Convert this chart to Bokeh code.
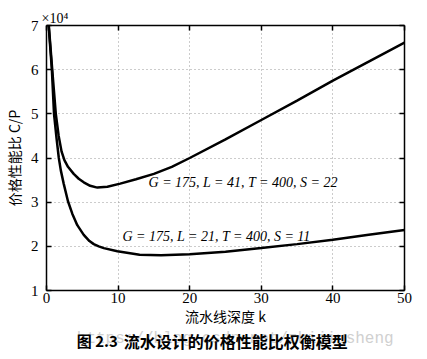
from bokeh.plotting import figure
from bokeh.models import LinearAxis, FixedTicker, Label, Range1d, Title
from bokeh.layouts import column
from bokeh.core.properties import value
from bokeh.embed import file_html
from bokeh.resources import INLINE

# pipeline depth k and cost/performance ratio C/P (units of 10^4)
k_a = [0.32, 0.8, 1.3, 1.7, 2.1, 2.5, 3.0, 3.8, 4.5, 5.2, 6.1, 7.1, 8.5, 10.3, 12.5, 15, 17.5, 20, 25, 30, 35, 40, 45, 50]
cp_a = [7.0, 6.0, 5.0, 4.5, 4.15, 3.95, 3.8, 3.64, 3.53, 3.45, 3.37, 3.33, 3.35, 3.42, 3.52, 3.64, 3.8, 4.0, 4.42, 4.86, 5.3, 5.75, 6.18, 6.61]

k_b = [0.3, 0.75, 1.05, 1.4, 1.72, 2.0, 2.4, 3.0, 3.6, 4.3, 5.2, 6.0, 6.6, 7.3, 8.0, 9.9, 13, 16, 20, 25, 30, 35, 40, 45, 50]
cp_b = [7.0, 6.0, 5.0, 4.45, 4.0, 3.72, 3.42, 3.02, 2.74, 2.48, 2.26, 2.12, 2.05, 2.0, 1.96, 1.89, 1.81, 1.8, 1.82, 1.88, 1.96, 2.05, 2.15, 2.26, 2.37]

label_a = "G = 175, L = 41, T = 400, S = 22"
label_b = "G = 175, L = 21, T = 400, S = 11"
x_ticks = [0, 10, 20, 30, 40, 50]
y_ticks = [1, 2, 3, 4, 5, 6, 7]
fig_no = "图 2.3"
caption = "流水设计的价格性能比权衡模型"
watermark = "https://blog.csdn.net/zhijiusheng"

SERIF = "Liberation Serif"
CJK = "Noto Sans CJK SC"

p = figure(frame_width=358, frame_height=265, output_backend="svg", toolbar_location=None,
           x_range=Range1d(0, 50), y_range=Range1d(1, 7),
           min_border_left=38, min_border_right=15, min_border_top=25, min_border_bottom=0)
p.outline_line_color = None

p.line(k_a, cp_a, line_color="black", line_width=2.5)
p.line(k_b, cp_b, line_color="black", line_width=2.5)

for ax in (p.xaxis[0], p.yaxis[0]):
    ax.axis_line_width = 1.5
    ax.axis_line_color = "black"
    ax.major_tick_in = 5
    ax.major_tick_out = 0
    ax.major_tick_line_width = 1.5
    ax.minor_tick_line_color = None
    ax.major_label_text_font = SERIF
    ax.major_label_text_font_size = "15px"
    ax.major_label_text_color = "black"
    ax.axis_label_text_font = CJK
    ax.axis_label_text_font_size = "14px"
    ax.axis_label_text_font_style = "normal"
    ax.axis_label_text_color = "black"

p.xaxis[0].ticker = FixedTicker(ticks=x_ticks)
p.yaxis[0].ticker = FixedTicker(ticks=y_ticks)
p.xaxis[0].major_label_standoff = 2
p.yaxis[0].major_label_standoff = 8
p.xaxis[0].axis_label = "流水线深度 k"
p.yaxis[0].axis_label = "价格性能比 C/P"
p.xaxis[0].axis_label_standoff = 0
p.yaxis[0].axis_label_standoff = 4

top = LinearAxis(ticker=FixedTicker(ticks=x_ticks))
right = LinearAxis(ticker=FixedTicker(ticks=y_ticks))
for ax in (top, right):
    ax.axis_line_width = 1.5
    ax.major_tick_in = 5
    ax.major_tick_out = 0
    ax.major_tick_line_width = 1.5
    ax.minor_tick_line_color = None
    ax.major_label_text_font_size = "1px"
    ax.major_label_text_color = None
    ax.major_label_standoff = 0
p.add_layout(top, "above")
p.add_layout(right, "right")

p.add_layout(Title(text="×10⁴", align="left", offset=-5, standoff=0, text_font=SERIF,
                   text_font_size="14px", text_font_style="normal", text_color="black"), "above")

for g, t in ((p.xgrid[0], x_ticks), (p.ygrid[0], y_ticks)):
    g.ticker = FixedTicker(ticks=t)
    g.grid_line_color = "#999999"
    g.grid_line_dash = "1 3"
    g.grid_line_width = 1

p.add_layout(Label(x=14.25, y=3.45, text=label_a, text_font=SERIF, text_font_size="14px",
                   text_font_style="italic", text_baseline="middle", text_color="black"))
p.add_layout(Label(x=10.6, y=2.22, text=label_b, text_font=SERIF, text_font_size="14px",
                   text_font_style="italic", text_baseline="middle", text_color="black"))

# caption strip below the chart (its frame is aligned with the chart frame: page x 46..404)
H = 24
cap = figure(width=411, height=H, output_backend="svg", toolbar_location=None,
             x_range=Range1d(46, 404), y_range=Range1d(H, 0),
             x_axis_location=None, y_axis_location=None, min_border=0)
cap.grid.visible = False
cap.outline_line_color = None
cap.text(x=[77], y=[10], text=[watermark], text_font=value("Liberation Mono"),
         text_font_size="16px", text_color="#d0d0d0", text_baseline="middle")
cap.text(x=[77], y=[12], text=[fig_no], text_font=value(CJK),
         text_font_size="15px", text_font_style="bold", text_color="black",
         text_baseline="middle")
cap.text(x=[125], y=[12], text=[caption], text_font=value(CJK),
         text_font_size="16px", text_font_style="bold", text_color="black",
         text_baseline="middle")

layout = column(p, cap, spacing=0)
open("out.html", "w").write(file_html(layout, INLINE))
